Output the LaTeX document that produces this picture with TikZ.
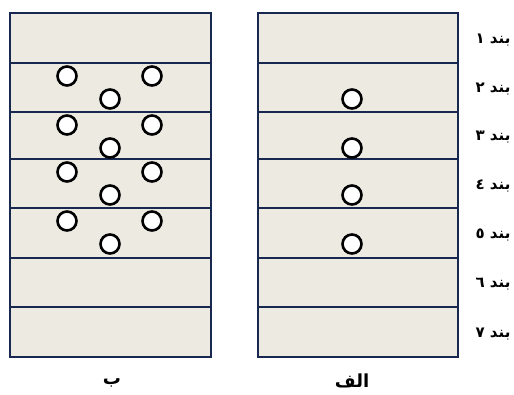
\documentclass[tikz,border=0pt]{standalone}
\usepackage{fontspec}
\newfontfamily\arabicfont[Script=Arabic]{DejaVu Sans}
\TeXXeTstate=1
\definecolor{sand}{RGB}{237,234,225}
\definecolor{navy}{RGB}{24,40,80}

\begin{document}
\begin{tikzpicture}[
  x=1pt, y=-1pt,
  band/.style  = {draw=navy, fill=sand, line width=2pt},
  frame/.style = {draw=navy, line width=2.6pt},
  hole/.style  = {circle, draw=black, fill=white, line width=2.6pt,
                  minimum size=19pt, inner sep=0pt},
  tag/.style   = {font=\arabicfont\bfseries\fontsize{15}{18}\selectfont,
                  inner sep=0pt},
  caption/.style = {font=\arabicfont\bfseries\fontsize{18}{20}\selectfont,
                  inner sep=0pt},
]
\useasboundingbox (0,0) rectangle (514,394);
% bands of both panels
\foreach \t/\b [count=\i] in {13/63, 63/112, 112/159, 159/208, 208/258, 258/307, 307/357} {
  \draw[band] (10,\t) rectangle (211,\b);
  \draw[band] (258,\t) rectangle (458,\b);
  \coordinate (row\i) at (0,{(\t+\b)/2+2});
}
\draw[frame] (10,13) rectangle (211,357);
\draw[frame] (258,13) rectangle (458,357);
% holes, panel b (left)
\foreach \t [count=\i from 2] in {63, 112, 159, 208} {
  \node[hole] (b\i l) at (67,\t+13) {};
  \node[hole] (b\i r) at (152,\t+13) {};
  \node[hole] (b\i m) at (110,\t+36) {};
}
% holes, panel alef (right)
\foreach \t [count=\i from 2] in {63, 112, 159, 208} {
  \node[hole] (a\i) at (352,\t+36) {};
}
% band labels
\foreach \d [count=\i] in {١,٢,٣,٤,٥,٦,٧} {
  \node[tag] (lbl\i) at (493,0 |- row\i) {\beginR بند \d\endR};
}
% panel captions
\node[caption] (capb) at (112,383) {\beginR ب\endR};
\node[caption] (capa) at (352,381) {\beginR الف\endR};
\end{tikzpicture}
\end{document}
